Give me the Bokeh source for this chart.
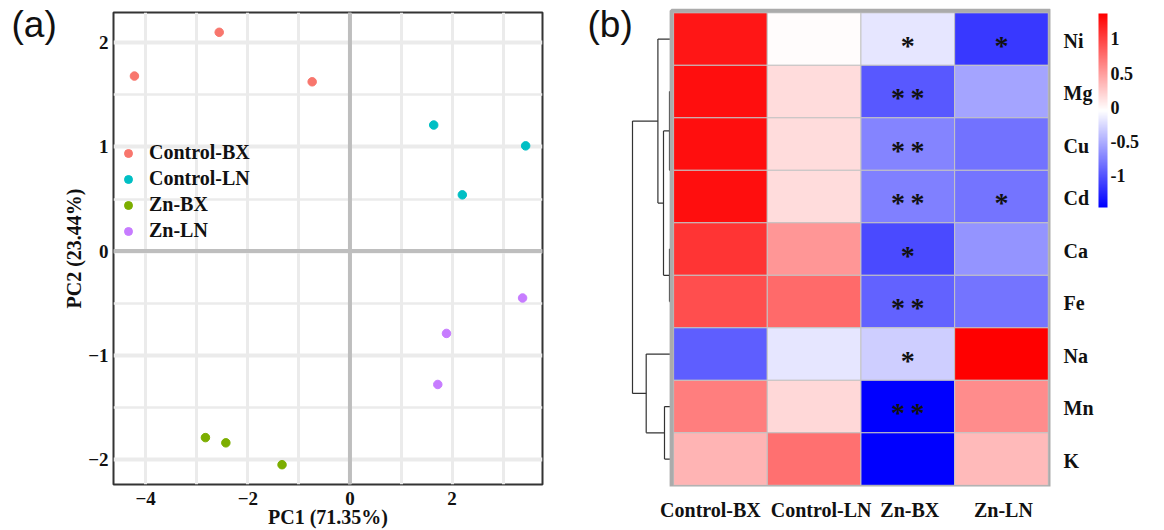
import numpy as np
from bokeh.plotting import figure
from bokeh.models import (Range1d, Span, FixedTicker, LinearColorMapper, ColorBar,
                          ColumnDataSource)
from bokeh.transform import transform
from bokeh.layouts import row
from bokeh.embed import file_html
from bokeh.resources import INLINE
from bokeh.core.properties import value

# ---------------- PCA data ----------------
groups = ["Control-BX", "Control-LN", "Zn-BX", "Zn-LN"]
group_colors = ["#F8766D", "#00BFC4", "#7CAE00", "#C77CFF"]
pc1_control_bx = [-4.22, -2.56, -0.74]
pc2_control_bx = [1.68, 2.10, 1.625]
pc1_control_ln = [1.64, 3.44, 2.20]
pc2_control_ln = [1.21, 1.01, 0.54]
pc1_zn_bx = [-2.83, -2.43, -1.33]
pc2_zn_bx = [-1.79, -1.84, -2.05]
pc1_zn_ln = [3.38, 1.89, 1.72]
pc2_zn_ln = [-0.45, -0.79, -1.28]
pc1_ticks = [-4, -2, 0, 2]
pc1_tick_labels = ["\u22124", "\u22122", "0", "2"]
pc2_ticks = [-2, -1, 0, 1, 2]
pc2_tick_labels = ["\u22122", "\u22121", "0", "1", "2"]

# ---------------- Heatmap data ----------------
elements = ["Ni", "Mg", "Cu", "Cd", "Ca", "Fe", "Na", "Mn", "K"]
samples = ["Control-BX", "Control-LN", "Zn-BX", "Zn-LN"]
z_control_bx = [1.24, 1.29, 1.29, 1.29, 1.08, 0.93, -0.94, 0.665, 0.37]
z_control_ln = [-0.03, 0.15, 0.15, 0.15, 0.53, 0.78, -0.18, 0.17, 0.74]
z_zn_bx = [-0.18, -0.97, -0.72, -0.75, -1.04, -0.91, -0.32, -1.46, -1.46]
z_zn_ln = [-1.14, -0.55, -0.82, -0.81, -0.64, -0.81, 1.37, 0.59, 0.34]
sig_control_bx = [""] * 9
sig_control_ln = [""] * 9
sig_zn_bx = ["*", "**", "**", "**", "*", "**", "*", "**", ""]
sig_zn_ln = ["*", "", "", "*", "", "", "", "", ""]
z_low, z_high = -1.46, 1.37
colorbar_ticks = [-1, -0.5, 0, 0.5, 1]
colorbar_tick_labels = ["-1", "-0.5", "0", "0.5", "1"]
# dendrogram merges (leaf ids 0..8 follow `elements`; merge ids continue from 9)
dendro_merges = [(2, 3, 0.05), (1, 9, 0.2), (4, 5, 0.2), (10, 11, 0.8),
                 (0, 12, 1.36), (7, 8, 0.7), (6, 14, 2.53), (13, 15, 3.9)]

SERIF = "Liberation Serif"
SANS = "Liberation Sans"
TXT = "#111111"
H = 530


def bare(fig):
    fig.grid.visible = False
    fig.outline_line_color = None
    fig.background_fill_color = "white"
    fig.border_fill_color = "white"


def no_ticks(ax):
    ax.axis_line_color = None
    ax.major_tick_line_color = None
    ax.minor_tick_line_color = None
    ax.major_tick_out = 0
    ax.major_tick_in = 0
    ax.minor_tick_out = 0
    ax.minor_tick_in = 0


# ================= panel letter (a) =================
p0 = figure(width=60, height=H, x_range=Range1d(0, 1), y_range=Range1d(0, 1),
            output_backend="svg", toolbar_location=None, frame_align=False,
            x_axis_location=None, y_axis_location=None,
            min_border_left=0, min_border_right=0, min_border_top=0, min_border_bottom=0)
bare(p0)
p0.text(x=[0], y=[1], text=["(a)"], x_offset=11, y_offset=24, text_align="left",
        text_baseline="middle", text_font=value(SANS), text_font_size="37px", text_color=TXT)

# ================= Panel (a): PCA =================
p1 = figure(width=515, height=H, x_range=Range1d(-4.63, 3.77), y_range=Range1d(-2.24, 2.29),
            output_backend="svg", toolbar_location=None, frame_align=False,
            min_border_left=52, min_border_right=33, min_border_top=12, min_border_bottom=45)
p1.background_fill_color = "white"
p1.border_fill_color = "white"
p1.outline_line_color = "#333333"
p1.outline_line_width = 2


def minor_of(ticks):
    step = ticks[1] - ticks[0]
    return [t + step / 2 for t in ticks[:-1]] + [ticks[-1] + step / 2]


p1.xaxis.ticker = FixedTicker(ticks=pc1_ticks, minor_ticks=minor_of(pc1_ticks))
p1.yaxis.ticker = FixedTicker(ticks=pc2_ticks, minor_ticks=minor_of(pc2_ticks))
p1.xaxis.major_label_overrides = dict(zip(pc1_ticks, pc1_tick_labels))
p1.yaxis.major_label_overrides = dict(zip(pc2_ticks, pc2_tick_labels))
for g in (p1.xgrid, p1.ygrid):
    g.grid_line_color = "#EBEBEB"
    g.minor_grid_line_color = "#EBEBEB"
p1.xgrid.grid_line_width = 3
p1.xgrid.minor_grid_line_width = 3
p1.ygrid.grid_line_width = 4
p1.ygrid.minor_grid_line_width = 2.5

p1.add_layout(Span(location=0, dimension="height", line_color="#BEBEBE", line_width=4, level="underlay"))
p1.add_layout(Span(location=0, dimension="width", line_color="#BEBEBE", line_width=4, level="underlay"))

for ax in p1.axis:
    no_ticks(ax)
    ax.major_label_text_font = SERIF
    ax.major_label_text_font_style = "bold"
    ax.major_label_text_font_size = "19px"
    ax.major_label_text_color = TXT
    ax.axis_label_text_font = SERIF
    ax.axis_label_text_font_style = "bold"
    ax.axis_label_text_font_size = "20px"
    ax.axis_label_text_color = TXT
p1.xaxis.major_label_standoff = 7
p1.yaxis.major_label_standoff = 5
p1.xaxis.axis_label = "PC1 (71.35%)"
p1.xaxis.axis_label_standoff = -2
p1.yaxis.axis_label = "PC2 (23.44%)"
p1.yaxis.axis_label_standoff = 0

series = [(pc1_control_bx, pc2_control_bx), (pc1_control_ln, pc2_control_ln),
          (pc1_zn_bx, pc2_zn_bx), (pc1_zn_ln, pc2_zn_ln)]
for (xs, ys), name, col in zip(series, groups, group_colors):
    p1.scatter(xs, ys, size=8.5, fill_color=col, line_color=col, legend_label=name)

lg = p1.legend[0]
lg.location = (5, 242)
lg.border_line_color = None
lg.background_fill_alpha = 0
lg.padding = 0
lg.margin = 0
lg.spacing = 3
lg.glyph_width = 20
lg.glyph_height = 20
lg.label_height = 20
lg.label_standoff = 11
lg.label_text_font = SERIF
lg.label_text_font_style = "bold"
lg.label_text_font_size = "20px"
lg.label_text_color = TXT

# ================= Panel (b): dendrogram + heatmap (one figure) =================
n_rows, n_cols = len(elements), len(samples)
# pixel layout of panel (b) inside its figure
W3 = 589
fr_w, fr_h = 475, 486                  # frame: x 0..475, y 0..486 (figure px)
cell_x0, cell_w = 98.1, 93.675         # first cell left edge, cell width (px)
cell_y0, cell_h = 12.3, 52.5           # first row top edge, row height (px)
leaf_x = 96.0                          # dendrogram leaf end (px)
dendro_px = 10.0                       # px per dendrogram height unit

xr3 = Range1d(-cell_x0 / cell_w, (fr_w - cell_x0) / cell_w)
yr3 = Range1d(n_rows - (fr_h - cell_y0) / cell_h, n_rows + cell_y0 / cell_h)
dr = Range1d(leaf_x / dendro_px, -(fr_w - leaf_x) / dendro_px)

p3 = figure(width=W3, height=H, x_range=xr3, y_range=yr3,
            output_backend="svg", toolbar_location=None, y_axis_location="right",
            frame_align=False, min_border_left=0, min_border_right=W3 - fr_w,
            min_border_top=0, min_border_bottom=H - fr_h)
bare(p3)
p3.extra_x_ranges = {"dendro": dr}

# dendrogram geometry from merges
ypos = {i: n_rows - 0.5 - i for i in range(n_rows)}
hpos = {i: 0.0 for i in range(n_rows)}
x0s, y0s, x1s, y1s = [], [], [], []
for k, (a, b, h) in enumerate(dendro_merges):
    nid = n_rows + k
    for c in (a, b):
        x0s.append(hpos[c]); y0s.append(ypos[c]); x1s.append(h); y1s.append(ypos[c])
    x0s.append(h); y0s.append(ypos[a]); x1s.append(h); y1s.append(ypos[b])
    ypos[nid] = (ypos[a] + ypos[b]) / 2
    hpos[nid] = h
p3.segment(x0=x0s, y0=y0s, x1=x1s, y1=y1s, line_color="#333333", line_width=1.2,
           x_range_name="dendro")

# palette blue -> white -> red
pal = []
for i in range(256):
    t = i / 255
    if t < 0.5:
        c = int(round(255 * t / 0.5))
        pal.append("#%02x%02xff" % (c, c))
    else:
        c = int(round(255 * (1 - t) / 0.5))
        pal.append("#ff%02x%02x" % (c, c))
mapper = LinearColorMapper(palette=pal, low=z_low, high=z_high)

cols_z = [z_control_bx, z_control_ln, z_zn_bx, z_zn_ln]
cols_sig = [sig_control_bx, sig_control_ln, sig_zn_bx, sig_zn_ln]
cx, cy, cz, cs = [], [], [], []
for j, (zc, sc) in enumerate(zip(cols_z, cols_sig)):
    for i in range(n_rows):
        cx.append(j + 0.5)
        cy.append(n_rows - 0.5 - i)
        cz.append(zc[i])
        cs.append(sc[i].replace("**", "*\u2009*"))
src = ColumnDataSource(dict(x=cx, y=cy, z=cz, sig=cs))

p3.rect(x="x", y="y", width=1, height=1, source=src,
        fill_color=transform("z", mapper), line_color="#C4C4C4", line_width=1)
# gray frame around the heatmap
bpx, bpy = 2 / cell_w, 2 / cell_h
p3.rect(x=[n_cols / 2], y=[n_rows / 2], width=n_cols + 2 * bpx, height=n_rows + 2 * bpy,
        fill_color=None, line_color="#ABABAB", line_width=4)
p3.text(x="x", y="y", text="sig", source=src, text_align="center", text_baseline="alphabetic",
        y_offset=6, text_font=value(SERIF), text_font_style="bold", text_font_size="28px",
        text_color=TXT)
p3.text(x=[xr3.start], y=[yr3.end], text=["(b)"], x_offset=12, y_offset=24,
        text_align="left", text_baseline="middle", text_font=value(SANS),
        text_font_size="37px", text_color=TXT)

col_nudge_px = [-10, 7, 2, 2]
xt = [j + 0.5 + col_nudge_px[j] / cell_w for j in range(n_cols)]
p3.xaxis.ticker = FixedTicker(ticks=xt)
p3.xaxis.major_label_overrides = dict(zip(xt, samples))
yt = [n_rows - 0.5 - i - 0.035 for i in range(n_rows)]
p3.yaxis.ticker = FixedTicker(ticks=yt)
p3.yaxis.major_label_overrides = dict(zip(yt, elements))
for ax in p3.axis:
    no_ticks(ax)
    ax.major_label_text_font = SERIF
    ax.major_label_text_font_style = "bold"
    ax.major_label_text_font_size = "20px"
    ax.major_label_text_color = TXT
p3.xaxis.major_label_standoff = 12
p3.yaxis.major_label_standoff = 13

cb = ColorBar(color_mapper=mapper, ticker=FixedTicker(ticks=colorbar_ticks),
              major_label_overrides=dict(zip(colorbar_ticks, colorbar_tick_labels)),
              width=9, height=194, location=(523, 279), padding=0, margin=0,
              label_standoff=3, major_tick_line_color=None, bar_line_color=None,
              border_line_color=None, background_fill_color=None,
              major_label_text_font=SERIF, major_label_text_font_style="bold",
              major_label_text_font_size="18px", major_label_text_color=TXT)
p3.add_layout(cb, "center")

layout = row(p0, p1, p3)
open("out.html", "w").write(file_html(layout, INLINE))
